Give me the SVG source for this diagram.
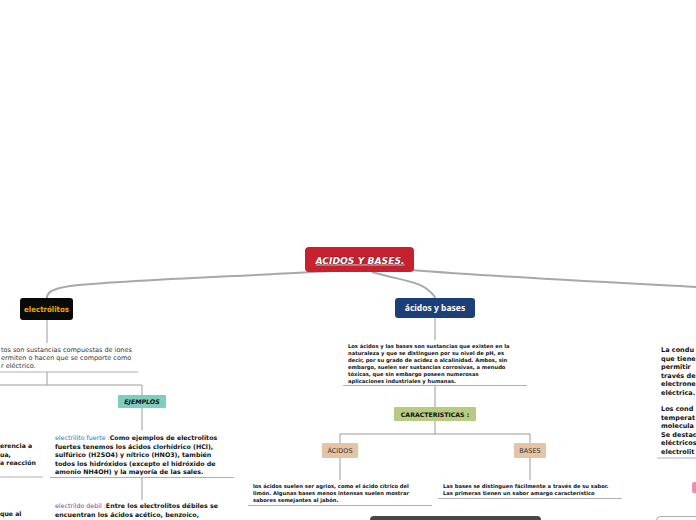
<svg xmlns="http://www.w3.org/2000/svg" width="696" height="520" viewBox="0 0 696 520">
<style>
.c{fill:none;stroke:#9a9a9a;stroke-width:1}
.ct{fill:none;stroke:#a8a8a8;stroke-width:2}
.ul{stroke:#b0b0b0;stroke-width:1}
.t{font-family:"DejaVu Sans",Verdana,sans-serif;font-weight:bold;fill:#111}
.tn{font-family:"DejaVu Sans",Verdana,sans-serif;fill:#333}
</style>
<rect width="696" height="520" fill="#fff"/>
<g id="connectors">
<path class="ct" d="M330,271 C250,276 120,280 70,286 C52,289 47,292 47,298"/>
<path class="ct" d="M410,270 C500,277 600,282 696,287"/>
<path class="ct" d="M372,272 C400,280 420,282 428,290 C433,294 435,296 435,298"/>
<path class="c" d="M47,320 V343"/>
<path class="c" d="M47,372 V385 M0,385 H142 V395"/>
<path class="c" d="M142,408 V430"/>
<path class="c" d="M142,477 V500"/>
<path class="c" d="M435,318 V340"/>
<path class="c" d="M435,385 V407"/>
<path class="c" d="M435,421 V434 M340,443 V434 H530 V443"/>
<path class="c" d="M340,458 V480"/>
<path class="c" d="M530,458 V480"/>
</g>
<g id="title">
<rect x="305" y="247" width="109" height="25" rx="4" fill="#c8202f"/>
<text x="360" y="263.5" text-anchor="middle" font-family="DejaVu Sans,Verdana,sans-serif" font-size="9.2" font-weight="bold" font-style="italic" fill="#fff" stroke="#4a080d" stroke-width="0.6" paint-order="stroke" text-decoration="underline">ACIDOS Y BASES.</text>
</g>
<g id="electrolitos">
<rect x="20" y="298" width="53" height="22" rx="3" fill="#0a0a0a"/>
<text x="46.5" y="312" text-anchor="middle" font-family="DejaVu Sans Condensed,sans-serif" font-size="7.8" font-weight="bold" fill="#f0a800">electrólitos</text>
</g>
<g id="electrolitos-def">
<text class="tn" font-size="6.5"><tspan x="1" y="352">tos son sustancias compuestas de iones</tspan><tspan x="1" y="360">ermiten o hacen que se comporte como</tspan><tspan x="1" y="368">r eléctrico.</tspan></text>
<line class="ul" x1="0" y1="372" x2="138" y2="372"/>
</g>
<g id="left-cut">
<text class="t" font-size="6.2"><tspan x="0" y="448">erencia a</tspan><tspan x="0" y="456.5">ua,</tspan><tspan x="0" y="465">a reacción</tspan><tspan x="0" y="516">que al</tspan></text>
<line class="ul" x1="0" y1="477" x2="43" y2="477"/>
</g>
<g id="ejemplos">
<rect x="118" y="395" width="48" height="13" rx="1" fill="#7fcdbd"/>
<text x="142" y="404" text-anchor="middle" class="t" font-size="6.3" font-style="italic">EJEMPLOS</text>
</g>
<g id="fuerte">
<text class="t" font-size="6.3"><tspan x="55" y="440"><tspan fill="#1a7ab8" font-weight="normal">electrilito fuerte :</tspan>Como ejemplos de electrolitos</tspan><tspan x="55" y="448.5">fuertes tenemos los ácidos clorhídrico (HCl),</tspan><tspan x="55" y="457">sulfúrico (H2SO4) y nítrico (HNO3), también</tspan><tspan x="55" y="465.5">todos los hidróxidos (excepto el hidróxido de</tspan><tspan x="55" y="474">amonio NH4OH) y la mayoría de las sales.</tspan></text>
<line class="ul" x1="50" y1="477.5" x2="234" y2="477.5"/>
</g>
<g id="debil">
<text class="t" font-size="6.3"><tspan x="55" y="508"><tspan fill="#7a3aa0" font-weight="normal">electrildo debil :</tspan>Entre los electrolitos débiles se</tspan><tspan x="55" y="516.5">encuentran los ácidos acético, benzoico,</tspan></text>
</g>
<g id="acidos-bases">
<rect x="395" y="298" width="80" height="20" rx="3" fill="#1c3f7a"/>
<text x="435" y="311" text-anchor="middle" font-family="Noto Sans,sans-serif" font-size="8.5" font-weight="bold" fill="#fff">ácidos y bases</text>
</g>
<g id="ab-def">
<text class="t" font-size="5.2" fill="#111"><tspan x="348" y="348">Los ácidos y las bases son sustancias que existen en la</tspan><tspan x="348" y="355">naturaleza y que se distinguen por su nivel de pH, es</tspan><tspan x="348" y="362">decir, por su grado de acidez o alcalinidad. Ambos, sin</tspan><tspan x="348" y="369">embargo, suelen ser sustancias corrosivas, a menudo</tspan><tspan x="348" y="376">tóxicas, que sin embargo poseen numerosas</tspan><tspan x="348" y="383">aplicaciones industriales y humanas.</tspan></text>
<line class="ul" x1="343" y1="385.5" x2="527" y2="385.5"/>
</g>
<g id="caracteristicas">
<rect x="394" y="407" width="82" height="14" rx="1" fill="#b8cb80"/>
<text x="435" y="416.5" text-anchor="middle" class="t" font-size="6.2">CARACTERISTICAS :</text>
</g>
<g id="acidos">
<rect x="322" y="443" width="36" height="15" rx="1" fill="#e6c3a5"/>
<text x="340" y="453" text-anchor="middle" class="tn" font-size="6.5" fill="#7a6050">ÁCIDOS</text>
</g>
<g id="bases">
<rect x="514" y="443" width="32" height="15" rx="1" fill="#e6c3a5"/>
<text x="530" y="453" text-anchor="middle" class="tn" font-size="6.5" fill="#7a6050">BASES</text>
</g>
<g id="acidos-def">
<text class="t" font-size="5.2"><tspan x="253" y="488">los ácidos suelen ser agrios, como el ácido cítrico del</tspan><tspan x="253" y="495">limón. Algunas bases menos intensas suelen mostrar</tspan><tspan x="253" y="502">sabores semejantes al jabón.</tspan></text>
<line class="ul" x1="248" y1="505.5" x2="432" y2="505.5"/>
</g>
<g id="bases-def">
<text class="t" font-size="5.2"><tspan x="443" y="488">Las bases se distinguen fácilmente a través de su sabor.</tspan><tspan x="443" y="495">Las primeras tienen un sabor amargo característico</tspan></text>
<line class="ul" x1="438" y1="498.5" x2="622" y2="498.5"/>
</g>
<g id="bottom-node">
<rect x="370" y="516" width="171" height="12" rx="4" fill="#474747"/>
</g>
<g id="right-text">
<text class="t" font-size="6.5"><tspan x="661" y="352">La condu</tspan><tspan x="661" y="360.5">que tiene</tspan><tspan x="661" y="369">permitir</tspan><tspan x="661" y="377.5">través de</tspan><tspan x="661" y="386">electrone</tspan><tspan x="661" y="394.5">eléctrica.</tspan><tspan x="661" y="411">Los cond</tspan><tspan x="661" y="419.5">temperat</tspan><tspan x="661" y="428">molecula</tspan><tspan x="661" y="436.5">Se destac</tspan><tspan x="661" y="445">eléctricos</tspan><tspan x="661" y="453.5">electrolit</tspan></text>
<line class="ul" x1="657" y1="458" x2="696" y2="458"/>
</g>
<g id="right-pink">
<rect x="692" y="482" width="10" height="11" rx="2" fill="#f08cb0"/>
</g>
<g id="right-bottom">
<rect x="656.5" y="516.5" width="50" height="12" rx="4" fill="#fff" stroke="#aaa"/>
</g>
</svg>
